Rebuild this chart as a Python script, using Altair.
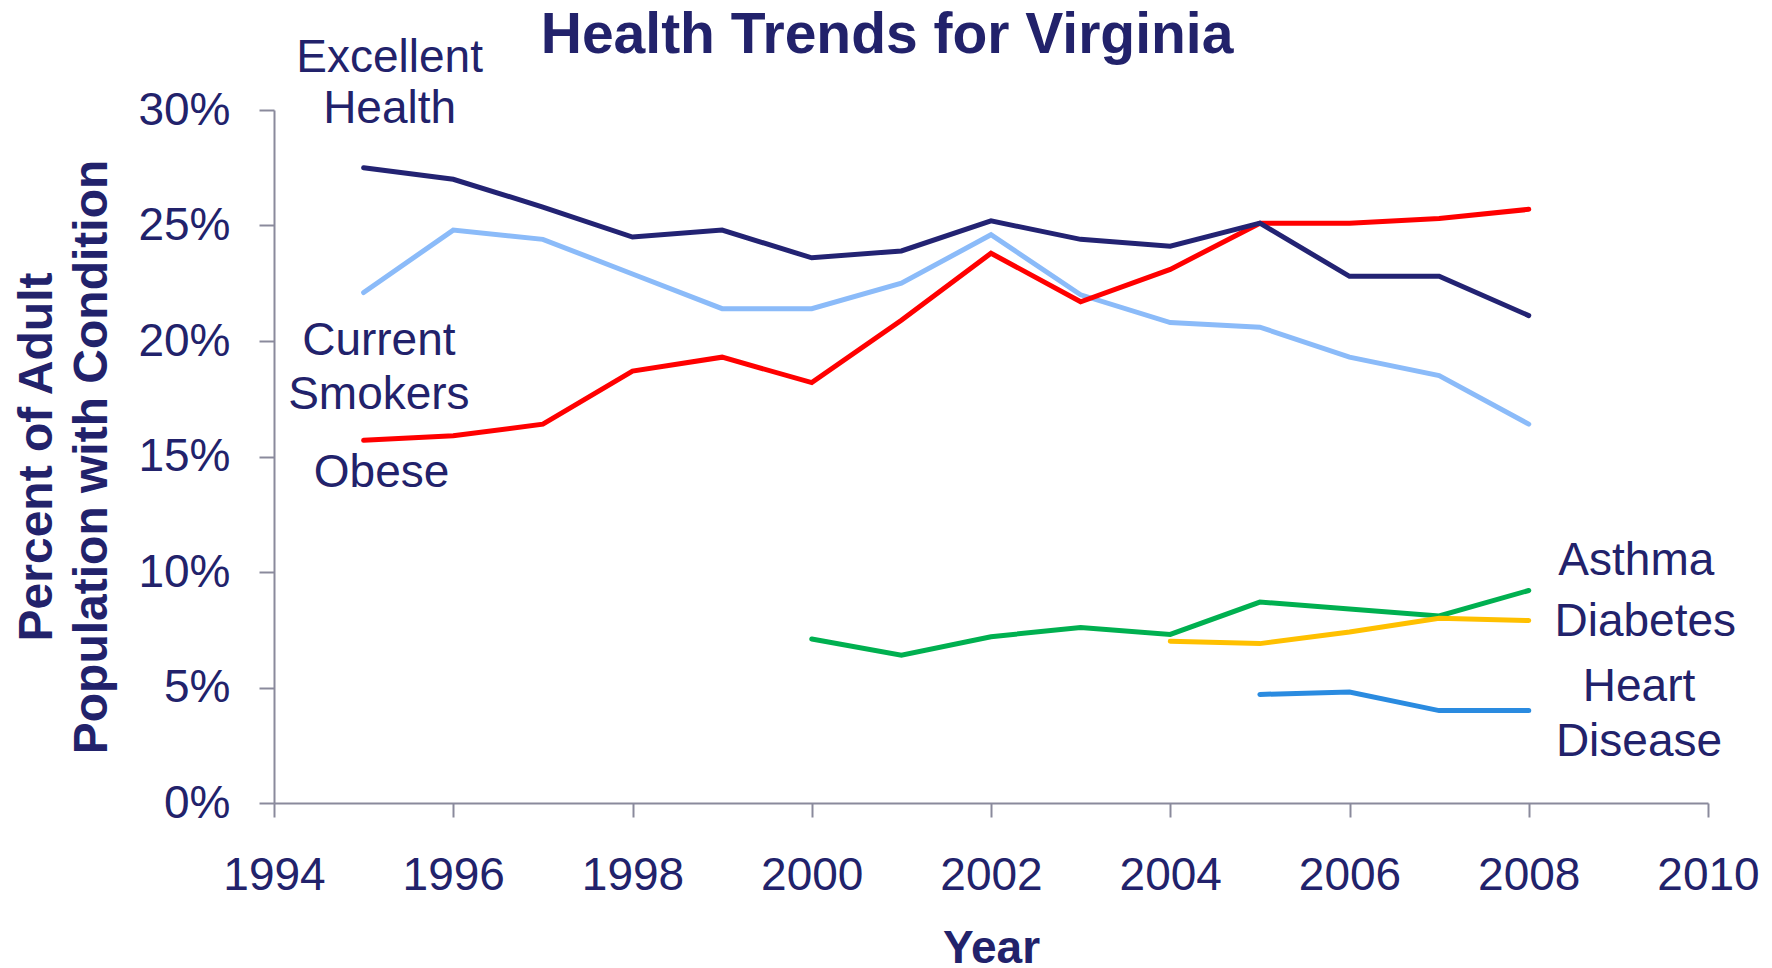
import altair as alt
import pandas as pd

NAVY = "#22226B"
AXIS_GRAY = "#8A8A9C"
FONT = "Arial, Liberation Sans, sans-serif"

years_main = [1995, 1996, 1997, 1998, 1999, 2000, 2001, 2002, 2003, 2004, 2005, 2006, 2007, 2008]
excellent = [27.5, 27.0, 25.8, 24.5, 24.8, 23.6, 23.9, 25.2, 24.4, 24.1, 25.1, 22.8, 22.8, 21.1]
smokers = [22.1, 24.8, 24.4, 22.9, 21.4, 21.4, 22.5, 24.6, 22.0, 20.8, 20.6, 19.3, 18.5, 16.4]
obese = [15.7, 15.9, 16.4, 18.7, 19.3, 18.2, 20.9, 23.8, 21.7, 23.1, 25.1, 25.1, 25.3, 25.7]

years_asthma = [2000, 2001, 2002, 2003, 2004, 2005, 2006, 2007, 2008]
asthma = [7.1, 6.4, 7.2, 7.6, 7.3, 8.7, 8.4, 8.1, 9.2]

years_diabetes = [2004, 2005, 2006, 2007, 2008]
diabetes = [7.0, 6.9, 7.4, 8.0, 7.9]

years_heart = [2005, 2006, 2007, 2008]
heart = [4.7, 4.8, 4.0, 4.0]

series_names = ["Asthma", "Diabetes", "Heart Disease", "Current Smokers", "Obese", "Excellent Health"]
series_colors = ["#00B050", "#FFC000", "#2A8BE0", "#8BBBF9", "#FF0000", "#232373"]

label_text = ["Excellent", "Health", "Current", "Smokers", "Obese", "Asthma", "Diabetes", "Heart", "Disease"]
label_year = [1995.29, 1995.29, 1995.17, 1995.17, 1995.2, 2009.2, 2009.3, 2009.23, 2009.23]
label_value = [31.66, 29.42, 19.38, 17.05, 13.67, 9.86, 7.22, 4.41, 2.02]

title_text = ["Health Trends for Virginia"]
title_year = [2000.84]
title_value = [32.47]

x_ticks = [1994, 1996, 1998, 2000, 2002, 2004, 2006, 2008, 2010]
y_ticks = [0, 5, 10, 15, 20, 25, 30]

rows = []
for name, yrs, vals in [
    ("Asthma", years_asthma, asthma),
    ("Diabetes", years_diabetes, diabetes),
    ("Heart Disease", years_heart, heart),
    ("Current Smokers", years_main, smokers),
    ("Obese", years_main, obese),
    ("Excellent Health", years_main, excellent),
]:
    for y, v in zip(yrs, vals):
        rows.append({"series": name, "year": y, "value": v})
df = pd.DataFrame(rows)

labels_df = pd.DataFrame({"text": label_text, "year": label_year, "value": label_value})
title_df = pd.DataFrame({"text": title_text, "year": title_year, "value": title_value})

x_enc = alt.X(
    "year:Q",
    scale=alt.Scale(domain=[1994, 2010], nice=False, zero=False),
    axis=alt.Axis(
        values=x_ticks, format="d", title="Year", grid=False,
        domainColor=AXIS_GRAY, domainWidth=2, tickColor=AXIS_GRAY, tickWidth=2, tickSize=14,
        labelFont=FONT, labelFontSize=46, labelColor=NAVY, labelPadding=36,
        titleFont=FONT, titleFontSize=46, titleFontWeight="bold", titleColor=NAVY, titlePadding=28,
        labelFlush=False,
    ),
)
y_enc = alt.Y(
    "value:Q",
    scale=alt.Scale(domain=[0, 30], nice=False),
    axis=alt.Axis(
        values=y_ticks, labelExpr="datum.value + '%'", grid=False,
        title=["Percent of Adult", "Population with Condition"],
        domainColor=AXIS_GRAY, domainWidth=2, tickColor=AXIS_GRAY, tickWidth=2, tickSize=15,
        labelFont=FONT, labelFontSize=46, labelColor=NAVY, labelPadding=29,
        titleFont=FONT, titleFontSize=48, titleFontWeight="bold", titleColor=NAVY,
        titlePadding=21, titleLineHeight=55, labelFlush=False,
    ),
)

color_scale = alt.Scale(domain=series_names, range=series_colors)

layers = []
for name in series_names:
    layers.append(
        alt.Chart(df)
        .transform_filter(alt.datum.series == name)
        .mark_line(strokeWidth=5, strokeCap="round", clip=False)
        .encode(x=x_enc, y=y_enc, color=alt.Color("series:N", scale=color_scale, legend=None))
    )

text_layer = (
    alt.Chart(labels_df)
    .mark_text(align="center", baseline="alphabetic", font=FONT, fontSize=46, color=NAVY)
    .encode(x=alt.X("year:Q"), y=alt.Y("value:Q"), text="text:N")
)

title_layer = (
    alt.Chart(title_df)
    .mark_text(align="center", baseline="alphabetic", font=FONT, fontSize=57,
               fontWeight="bold", color=NAVY)
    .encode(x=alt.X("year:Q"), y=alt.Y("value:Q"), text="text:N")
)

chart = (
    alt.layer(*layers, text_layer, title_layer)
    .properties(
        width=1434,
        height=693,
        background="white",
        autosize=alt.AutoSizeParams(type="none"),
        padding={"left": 266, "top": 102, "right": 56, "bottom": 164},
    )
    .configure_view(stroke=None)
)

chart.save("out.html", embed_options={"renderer": "svg", "actions": False})
